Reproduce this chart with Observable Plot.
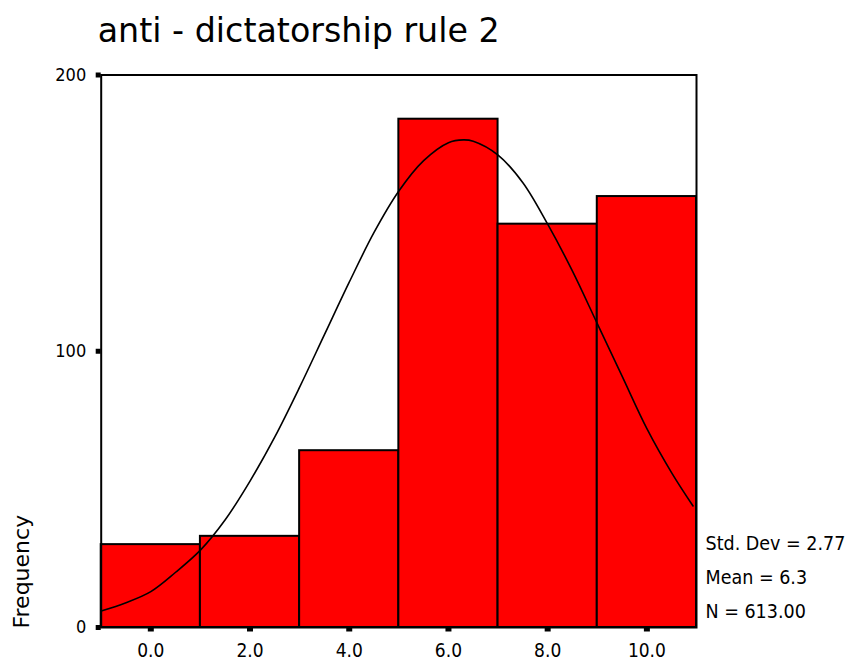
<!DOCTYPE html>
<html>
<head>
<meta charset="utf-8">
<script src="https://cdn.jsdelivr.net/npm/d3@7"></script>
<script src="https://cdn.jsdelivr.net/npm/@observablehq/plot@0.6"></script>
<style>
  html, body { margin: 0; padding: 0; background: #fff; }
  #chart { width: 850px; height: 661px; }
</style>
</head>
<body>
<div id="chart"></div>
<script>
// ---- data ----
const titleText = "anti - dictatorship rule 2";
const yLabel = "Frequency";
const binLo = [-1, 1, 3, 5, 7, 9];
const binHi = [1, 3, 5, 7, 9, 11];
const counts = [30, 33, 64, 184, 146, 156];
const xTicks = [0, 2, 4, 6, 8, 10];
const yTicks = [0, 100, 200];
const curveX = [-1, -0.5, 0, 0.5, 1, 1.5, 2, 2.5, 3, 3.5, 4, 4.5, 5, 5.5, 6, 6.3, 6.5, 7, 7.5, 8, 8.5, 9, 9.5, 10, 10.5, 10.93];
const curveY = [6, 9, 13, 20, 28, 39, 53, 69, 87, 106, 125, 143, 158, 169, 175.5, 176.5, 176, 171, 161, 146, 129, 110, 91, 72, 56, 44];
const statLabels = ["Std. Dev", "Mean", "N"];
const statValues = ["2.77", "6.3", "613.00"];

const bins = binLo.map((lo, i) => ({lo, hi: binHi[i], count: counts[i]}));
const curve = curveX.map((x, i) => ({x, y: curveY[i]}));
const legendText = statLabels.map((l, i) => `${l} = ${statValues[i]}`).join("\n");

const condensed = "'DejaVu Sans Condensed', 'DejaVu Sans', sans-serif";
const wide = "'DejaVu Sans', sans-serif";

const chart = Plot.plot({
  width: 850,
  height: 661,
  marginLeft: 100.7,
  marginRight: 154,
  marginTop: 74.5,
  marginBottom: 34,
  style: {fontFamily: condensed, fontSize: "19px", background: "white", color: "black", overflow: "visible"},
  x: {domain: [-1, 11]},
  y: {domain: [0, 200]},
  marks: [
    Plot.rectY(bins, {x1: "lo", x2: "hi", y: "count", fill: "#ff0000", stroke: "black", strokeWidth: 2}),
    Plot.line(curve, {x: "x", y: "y", stroke: "black", strokeWidth: 1.6, curve: "catmull-rom"}),
    Plot.frame({stroke: "black", strokeWidth: 2}),
    Plot.axisY({ticks: yTicks, tickSize: 5, strokeWidth: 5, tickPadding: 10, tickFormat: d3.format("d"), fontSize: 18, label: null}),
    Plot.axisX({ticks: xTicks, tickSize: 3.5, strokeWidth: 6, dy: 1, tickFormat: () => "", label: null}),
    Plot.axisX({ticks: xTicks, tickSize: 0, tickPadding: 15.5, tickFormat: d3.format(".1f"), fontSize: 19, label: null}),
    Plot.text([titleText], {frameAnchor: "top-left", text: d => d, textAnchor: "start", lineAnchor: "bottom", dx: -3.5, dy: -33.5, fontSize: 33.3, fontFamily: wide}),
    Plot.text([yLabel], {frameAnchor: "bottom-left", text: d => d, rotate: -90, textAnchor: "start", lineAnchor: "bottom", dx: -72.5, dy: 1, fontSize: 22, fontFamily: wide}),
    Plot.text([legendText], {frameAnchor: "bottom-right", text: d => d, textAnchor: "start", lineAnchor: "bottom", lineHeight: 1.75, dx: 9, dy: -9.7, fontSize: 19.5, fontFamily: condensed})
  ]
});
document.getElementById("chart").appendChild(chart);
</script>
</body>
</html>
